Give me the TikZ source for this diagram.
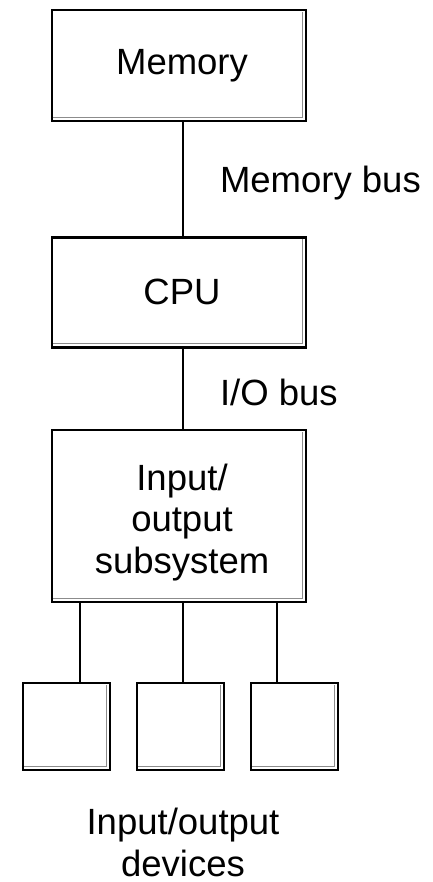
\documentclass[tikz,border=0pt]{standalone}
\usepackage{fontspec}
\setmainfont{Liberation Sans}
\begin{document}
\begin{tikzpicture}[x=1pt,y=1pt,
  unitbox/.style={draw=black, line width=2.6pt, inner sep=0pt, outer sep=0pt, fill=white},
  bigfont/.style={font=\fontsize{36.5}{41.5}\selectfont},
  txt/.style={bigfont, inner sep=0pt, outer sep=0pt, align=center},
  wire/.style={draw=black, line width=2.6pt},
  shade/.style={draw=black!45, line width=1pt}]
\useasboundingbox (0,0) rectangle (432,-882);

% main units
\node[unitbox, minimum width=254, minimum height=111] (mem) at (179,-65.5) {};
\node[unitbox, minimum width=254, minimum height=110] (cpu) at (179,-292.5) {};
\node[unitbox, minimum width=254, minimum height=172] (io)  at (179,-516) {};

% devices
\node[unitbox, minimum width=87, minimum height=87] (d1) at (66.5,-726.5) {};
\node[unitbox, minimum width=87, minimum height=87] (d2) at (180.5,-726.5) {};
\node[unitbox, minimum width=87, minimum height=87] (d3) at (294.5,-726.5) {};

% inner shadow lines on right and bottom edges
\foreach \b in {mem,cpu,io,d1,d2,d3}{
  \draw[shade] ([shift={(-3.8,-2)}]\b.north east) -- ([shift={(-3.8,3.8)}]\b.south east)
               -- ([shift={(1,3.8)}]\b.south west);
}

% labels (base anchor sits on the last line of a multi-line node)
\node[txt, anchor=base] (memt) at (182,-75) {Memory};
\node[txt, anchor=base] (cput) at (182,-304) {CPU};
\node[txt, anchor=base] (iot)  at (182,-573) {Input/\\output\\subsystem};
\node[txt, anchor=base west] (mbus) at (220,-193) {Memory bus};
\node[txt, anchor=base west] (iobus) at (220,-405) {I/O bus};
\node[txt, anchor=base] (devt) at (183,-876) {Input/output\\devices};

% buses
\coordinate (c1) at ([xshift=4pt]mem.south);
\draw[wire] (c1) -- (c1 |- cpu.north);
\coordinate (c2) at ([xshift=4pt]cpu.south);
\draw[wire] (c2) -- (c2 |- io.north);

\coordinate (t1) at ([xshift=13.5pt]d1.north);
\coordinate (t2) at ([xshift=2.5pt]d2.north);
\coordinate (t3) at ([xshift=-17.5pt]d3.north);
\foreach \t in {t1,t2,t3}{
  \draw[wire] (\t) -- (\t |- io.south);
}
\end{tikzpicture}
\end{document}
